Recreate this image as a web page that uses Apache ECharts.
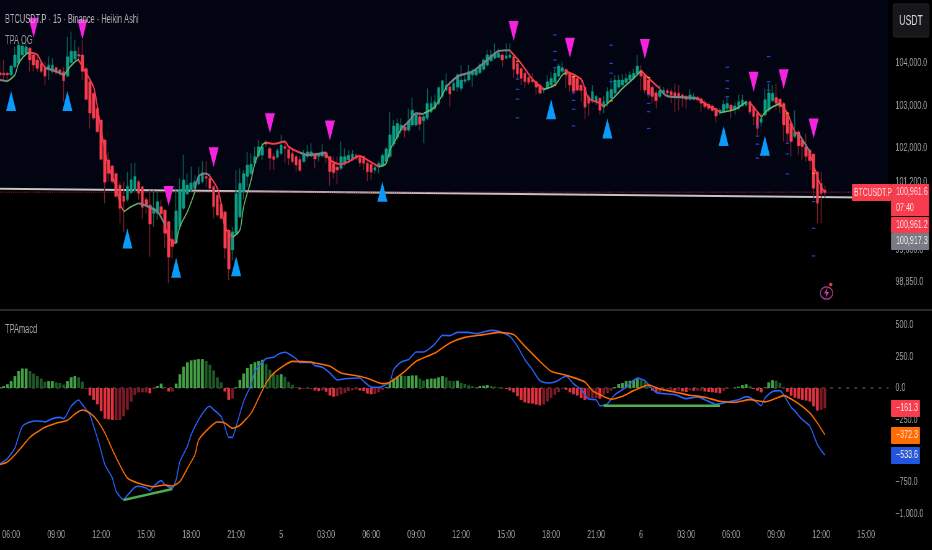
<!DOCTYPE html>
<html><head><meta charset="utf-8">
<style>html,body{margin:0;padding:0;background:#000;overflow:hidden}
#w{width:932px;height:550px;overflow:hidden;position:relative}
#c{height:550px;position:absolute;left:0;top:0;transform-origin:0 0}</style>
<script src="https://cdn.jsdelivr.net/npm/echarts@6/dist/echarts.min.js"></script>
</head><body><div id="w"><div id="c"></div></div>
<script>
const FONT = '"Liberation Sans",Arial,sans-serif';
const candleOpen = [
103770,103760,103760,103720,103910,103990,104190,104230,104350,104190,
104070,103990,103870,103840,103800,103890,103840,103800,103690,104010,
104090,104200,104190,103870,103560,103290,102930,102660,102190,101720,
101580,101400,101130,100870,100790,100950,101010,101210,101090,100790,
100660,100460,100460,100620,100540,100270,99850,99770,100150,100580,
100920,101000,101050,101150,101210,101330,101290,101090,100890,100680,
100500,100070,99600,99990,100380,100970,101330,101400,101640,101810,
101830,102130,101990,101800,101780,101870,102030,101970,101870,101800,
101730,101680,101800,101810,101870,101800,101810,101890,101800,101640,
101550,101520,101620,101720,101740,101830,101780,101800,101640,101620,
101480,101560,101600,101680,101800,102090,102250,102420,102500,102420,
102540,102540,102740,102640,102700,102850,102930,103050,103220,103360,
103440,103360,103430,103400,103570,103600,103720,103720,103770,103850,
103950,104050,104110,104130,104190,104110,104130,104150,103990,103870,
103760,103660,103600,103560,103480,103360,103400,103480,103540,103690,
103800,103850,103760,103690,103640,103480,103430,103210,103100,103090,
103170,102960,103050,103170,103290,103430,103480,103540,103600,103640,
103740,103820,103720,103600,103430,103300,103210,103290,103350,103330,
103300,103290,103250,103210,103140,103140,103190,103160,103070,103030,
102990,102930,102830,102850,102930,103010,102910,102930,102990,103010,
103090,102970,102830,102600,102780,102890,103110,103190,103150,103050,
102820,102580,102270,102380,102190,102030,101950,101860,101440,101170,101010];
const candleClose = [
103720,103720,103720,103930,104190,104420,104400,104380,104070,103950,
103870,103800,103690,103950,103950,103780,103740,103580,104150,104280,
104280,104160,103800,103140,102820,102700,102380,101730,101190,101400,
101210,100860,100580,100740,101100,101250,101330,100930,100600,100630,
100210,100580,100740,100450,99990,99430,99680,100520,101030,101250,
101130,101180,101210,101330,101420,101290,101050,100620,100420,100340,
99640,99150,100030,100930,101170,101400,101600,101620,101800,102030,
102030,102090,101760,101730,101940,102070,101990,101760,101680,101600,
101470,101860,101910,101910,101740,101870,101910,101770,101440,101420,
101480,101800,101800,101830,101860,101760,101650,101640,101440,101430,
101540,101640,101830,101980,102310,102520,102580,102540,102410,102640,
102890,102780,102560,102740,103050,103050,103090,103420,103580,103480,
103270,103520,103720,103600,103610,103800,103800,103840,103950,104070,
104190,104190,104230,104230,104070,104170,104190,103850,103740,103640,
103560,103540,103560,103430,103290,103400,103560,103640,103760,103930,
103890,103720,103480,103330,103360,103350,102960,103050,103330,103210,
102890,103090,103330,103380,103600,103600,103600,103640,103720,103760,
103930,103690,103360,103250,103210,103110,103350,103360,103290,103250,
103220,103210,103170,103140,103250,103210,103130,103050,102970,102930,
102880,102750,102890,103030,103050,102890,102990,103090,103130,103090,
102850,102740,102460,102700,103140,103300,103290,103050,102970,102540,
102340,102150,102380,102050,102030,101800,101700,101050,100700,100930,100950];
const candleLow = [
103600,103560,103600,103680,103870,103950,104150,104190,103800,103800,
103800,103760,103480,103600,103760,103720,103690,103090,103680,103990,
104070,104030,103600,103130,102460,102660,102380,101720,100700,101210,
101170,100820,100230,100030,100740,100930,100970,100780,100340,100460,
99440,100150,100310,100380,99640,98820,99400,99760,100070,100540,
100890,100970,101030,101130,101170,101090,101010,100340,100380,100340,
99400,98890,99360,99950,100340,100780,101090,101360,101560,101760,
101720,102030,101480,101480,101760,101840,101640,101600,101640,101440,
101440,101660,101760,101800,101520,101680,101800,101640,101110,101290,
101150,101480,101580,101640,101700,101720,101560,101480,101220,101250,
101400,101400,101560,101640,101760,102030,102190,102340,102240,102380,
102500,102500,102420,102110,102660,102820,102890,103010,103170,103330,
102960,103360,103330,103330,103520,103560,103440,103680,103740,103820,
103910,104030,104090,104110,103910,104090,104110,103640,103600,103480,
103400,103480,103520,103250,103250,103290,103360,103440,103510,103660,
103760,103400,103330,103250,103330,103090,102670,102750,103050,103010,
102780,102820,102970,103130,103210,103400,103440,103510,103560,103600,
103690,103360,103290,103170,103050,102930,103170,103250,103210,103050,
102850,102890,102970,102930,103110,103130,103090,102850,102930,102890,
102850,102600,102780,102820,102850,102700,102780,102890,102970,102970,
102780,102540,102310,102500,102740,102850,103070,102890,102820,102150,
102110,101800,102230,101840,101720,101680,101480,100780,100230,100230,100820];
const candleHigh = [
104030,104070,103800,103950,104380,104500,104460,104460,104380,104230,
104190,104030,104030,104150,104110,103910,103870,103910,104620,104740,
104540,104380,104540,103910,103600,103290,102970,102660,102190,101910,
101600,101400,101210,101210,101440,101640,101650,101250,101090,100850,
101010,101010,100970,100780,100540,100270,100070,101010,101290,101840,
101400,101560,101360,101560,101690,101680,101400,101130,100930,100700,
100500,100070,100150,101480,101520,101480,101910,101870,102030,102190,
102110,102190,102030,101870,101990,102310,102190,101990,101950,101840,
101800,101950,102070,102110,101870,101870,102090,101910,101800,101800,
101800,102150,101990,101950,101950,101870,101810,101800,101720,101640,
101600,101680,101870,102030,102840,102660,102700,102700,102520,102930,
103180,102820,102780,102780,103400,103210,103250,103430,103600,103760,
103480,103640,103760,103950,103760,103950,103870,103870,103990,104110,
104310,104310,104460,104340,104230,104460,104460,104190,104030,103890,
103800,103690,103760,103600,103520,103440,103720,103800,103870,103990,
104030,103870,103800,103720,103640,103600,103430,103250,103480,103250,
103170,103210,103430,103640,103720,103720,103740,103760,103800,103870,
104190,103950,103760,103640,103480,103360,103480,103440,103400,103400,
103520,103480,103290,103250,103380,103290,103220,103190,103130,103070,
103030,102930,102930,103130,103210,103040,103090,103250,103250,103130,
103090,102990,102850,102820,103400,103520,103480,103520,103170,103090,
102850,102600,102890,102420,102230,102340,101990,101870,101440,101440,101110];

const baseLine = [[0,101040],[237,100830]];
const lastPriceLine = [[0,100961.6],[237,100961.6]];

const ogGreen = [
[2,103570],[4,103720],[5,103990],[7,104210],[8,104240],[8,null],
[17,103690],[18,103835],[20,104030],[21,104090],[21,null],
[33,100500],[35,100620],[37,100700],[37,null],
[47,99760],[48,100150],[50,100500],[52,100970],[52,null],
[62,99900],[64,100070],[65,100620],[67,101250],[68,101640],[70,102070],[71,102130],[71,null],
[101,101560],[103,101640],[104,101950],[106,102270],[107,102460],[107,null],
[113,102815],[116,102970],[119,103430],[119,null],
[145,103380],[148,103480],[150,103720],[151,103770],[151,null],
[161,102970],[164,103210],[166,103400],[169,103640],[171,103820],[171,null],
[192,102830],[196,102910],[199,103090],[199,null],
[203,102720],[205,102910],[208,103050]];
const ogRed = [
[8,104240],[10,104190],[11,104030],[12,103890],[12,null],
[21,104070],[23,103760],[25,103430],[26,102970],[27,102420],[28,101950],[29,101560],[31,101090],[32,100700],[33,100520],[33,null],
[44,100150],[45,99910],[46,99800],[47,99760],[47,null],
[56,101330],[58,101050],[59,100700],[60,100150],[62,99900],[62,null],
[71,102130],[73,102100],[76,102150],[77,102030],[80,101890],[80,null],
[87,101890],[88,101720],[91,101620],[93,101680],[96,101810],[98,101720],[101,101560],[101,null],
[136,104290],[139,103990],[142,103620],[145,103380],[145,null],
[151,103800],[155,103620],[156,103400],[157,103170],[160,103050],[161,102970],[161,null],
[171,103820],[173,103640],[176,103400],[176,null],
[186,103170],[188,103050],[192,102850],[192,null],
[200,103070],[202,102850],[203,102740],[203,null],
[208,103040],[210,102820],[212,102380],[213,102340],[213,null],
[216,101860],[218,101330],[219,101090],[220,100950]];
const ogGray = [
[0,103600],[2,103570],[2,null],
[12,103890],[15,103800],[17,103720],[17,null],
[37,100700],[39,100640],[42,100500],[44,100190],[44,null],
[52,101000],[53,101330],[55,101400],[56,101340],[56,null],
[80,101890],[81,101860],[82,101835],[87,101890],[87,null],
[107,102460],[109,102620],[111,102815],[113,102800],[113,null],
[119,103440],[122,103680],[126,103800],[130,104070],[133,104280],[136,104300],[136,null],
[176,103380],[178,103220],[183,103190],[186,103170],[186,null],
[213,102340],[216,101910]];

const buySignals = [[3,103106],[18,103106],[34,99870],[47,99180],[63,99220],[102,100970],[147,102910],[162,102460],[193,102280],[204,102050]];
const sellSignals = [[9,104830],[22,104790],[45,100870],[57,101780],[72,102580],[88,102410],[137,104750],[152,104360],[172,104330],[201,103560],[209,103620],[217,102460]];
const blueDashes = [
[138,103620],[138,103380],[138,103150],[138,102710],
[148,104660],[148,104270],[148,104070],[148,103890],
[153,103300],[153,103120],[153,102910],[153,102520],
[163,104420],[163,103990],[163,103760],[163,103560],
[173,103255],[173,103050],[173,102855],[173,102460],
[194,103900],[194,103580],[194,103400],[194,103210],
[202,102500],[202,102280],[202,102090],[202,101760],
[205,104150],[205,103560],[205,103360],
[210,102110],[210,101860],[210,101390],
[217,100740],[217,100110],[217,99460]];
const orangeDashes = [[138,104040],[153,103680],[148,103480],[173,103660],[163,103110],[210,102820],[217,101400]];

const histValues = [
5,15,30,55,95,135,155,155,135,115,
95,75,50,55,55,45,40,28,55,85,
95,85,50,-5,-60,-95,-130,-185,-245,-250,
-255,-255,-255,-225,-175,-110,-55,-35,-35,-35,
-42,-10,15,35,8,-28,-28,35,110,170,
205,220,225,230,230,215,185,140,85,45,
-28,-95,-85,5,65,115,160,190,205,215,
225,190,145,115,105,110,90,50,25,5,
-10,-8,-3,-5,-20,-25,-20,-30,-60,-70,
-65,-52,-40,-25,-18,-13,-20,-25,-45,-50,
-48,-35,-15,8,40,75,90,100,95,95,
100,100,75,60,70,75,75,85,95,85,
58,55,58,40,32,22,14,8,16,18,
24,16,10,5,-2,-8,-20,-35,-65,-95,
-115,-122,-125,-132,-138,-132,-108,-80,-55,-32,
-8,-15,-35,-50,-60,-80,-95,-85,-80,-80,
-85,-55,-40,-22,8,32,40,55,58,65,
75,65,50,18,-22,-35,-32,-26,-22,-18,
-22,-22,-28,-32,-20,-22,-22,-22,-28,-32,
-35,-38,-42,-22,-8,-2,3,10,24,30,
14,-8,-22,-35,5,45,62,58,40,3,
-30,-62,-78,-85,-95,-100,-108,-146,-180,-175,-161.3];
const macdLine = [
[0,-605],[2,-563],[4,-478],[5,-385],[6,-305],[8,-271],[10,-263],[11,-265],[12,-271],[14,-244],[16,-234],[17,-244],
[19,-146],[21,-96],[22,-133],[24,-215],[25,-305],[26,-398],[27,-504],[28,-610],[30,-717],[31,-823],[33,-889],[34,-855],
[36,-791],[37,-783],[39,-796],[40,-817],[41,-783],[43,-738],[44,-770],[46,-796],[47,-730],[48,-587],[50,-464],[51,-372],
[53,-252],[55,-165],[56,-146],[57,-173],[59,-228],[60,-305],[61,-393],[62,-393],[63,-305],[65,-106],[67,27],[68,133],
[71,234],[73,244],[74,265],[76,284],[77,273],[79,234],[80,204],[83,204],[84,178],[86,165],[88,119],[90,64],[92,74],[96,80],
[97,53],[99,8],[101,5],[104,48],[105,146],[107,207],[109,226],[111,287],[113,287],[115,324],[116,350],[118,419],[120,417],
[122,443],[125,443],[127,433],[129,446],[131,459],[133,451],[136,411],[138,332],[140,226],[142,146],[144,58],[146,40],
[148,48],[151,93],[153,32],[155,-13],[157,-88],[159,-93],[160,-141],[162,-127],[164,-53],[167,5],[170,80],[172,58],[175,-35],
[180,-53],[183,-85],[186,-72],[188,-93],[191,-130],[194,-111],[197,-93],[199,-69],[201,-93],[203,-141],[204,-80],[206,-29],
[208,-21],[209,-53],[211,-154],[212,-183],[214,-252],[216,-305],[218,-451],[219,-496],[220,-533.6]];
const signalLine = [
[0,-610],[2,-589],[4,-533],[6,-464],[8,-393],[10,-350],[12,-313],[15,-281],[18,-257],[20,-207],[22,-175],[24,-199],[26,-260],
[28,-358],[30,-491],[32,-613],[34,-717],[37,-759],[41,-786],[44,-772],[46,-780],[48,-746],[50,-640],[52,-533],[53,-414],
[56,-313],[58,-271],[60,-279],[62,-321],[64,-297],[67,-199],[69,-80],[71,40],[73,117],[76,183],[78,212],[83,207],[84,199],
[88,173],[91,119],[96,93],[99,66],[102,35],[104,45],[108,133],[111,212],[116,279],[120,358],[124,403],[129,425],[133,443],
[137,425],[140,332],[144,212],[147,133],[151,101],[156,48],[158,-21],[160,-53],[163,-90],[166,-66],[169,-21],[173,24],[176,-8],
[180,-32],[184,-58],[188,-74],[192,-106],[196,-114],[200,-93],[204,-111],[207,-82],[209,-61],[212,-106],[216,-199],[218,-279],[220,-372.3]];
const divergenceA = [[33,-892],[46,-804]];
const divergenceB = [[161,-141],[192,-141]];
const zeroLine = [[0,0],[237,0]];

const priceTicks = [104000,103000,102000,101200,99600,98850];
const macdTicks = [500,250,0,-250,-750,-1000];
const timeTicks = {3:'06:00',15:'09:00',27:'12:00',39:'15:00',51:'18:00',63:'21:00',75:'5',87:'03:00',99:'06:00',111:'09:00',123:'12:00',135:'15:00',147:'18:00',159:'21:00',171:'6',183:'03:00',195:'06:00',207:'09:00',219:'12:00',231:'15:00'};
const categoryCount = 238;

// The reference is a horizontally squeezed screenshot: draw wide, then squeeze.
const S = 0.62;
const X = v => v / S;
const box = document.getElementById('c');
box.style.width = X(932) + 'px';
box.style.transform = 'scaleX(' + S + ')';

const categories = Array.from({length:categoryCount},(_,i)=>String(i));
const fmt = v => (v<0?'\u2212':'') + Math.abs(v).toLocaleString('en-US',{minimumFractionDigits:1,maximumFractionDigits:1});
const UP='#0a9c84', DN='#f73c4e', UPW='#0c6355', DNW='#7a1f2a';
const wickData = candleOpen.map((o,i)=>[o,candleClose[i],candleLow[i],candleHigh[i]]);
const bodyData = candleOpen.map((o,i)=>{const c=candleClose[i];return [o,c,Math.min(o,c),Math.max(o,c)];});
const histData = histValues.map((v,i)=>{
  const p = i? histValues[i-1]:0;
  const col = v>=0 ? (v>=p?'#43a047':'#1d5a26') : (v<p?'#e2313f':'#7a1a26');
  return {value:v,itemStyle:{color:col}};
});
const line=(name,data,color,width,extra)=>Object.assign({type:'line',name,data,showSymbol:false,symbol:'none',
  lineStyle:{color,width},animation:false,silent:true,connectNulls:false},extra||{});
const hideAxis={axisLine:{show:false},axisTick:{show:false},splitLine:{show:false}};
const tag=(x,y,w,h,fill,lines,color)=>[
  {type:'rect',z:50,shape:{x:X(x),y,width:X(w),height:h,r:1},style:{fill}},
  ...lines.map((t,k)=>({type:'text',z:51,x:X(x+5),y:y+8+k*16,style:{text:t,fill:color||'#ffdfe2',font:'11.5px '+FONT,textVerticalAlign:'middle'}}))
];
const chart=echarts.init(box,null,{renderer:'canvas'});
chart.setOption({
  animation:false,backgroundColor:'#000',
  grid:[{left:X(-2),top:0,width:X(892.5),height:309,outerBoundsMode:'none'},
        {left:X(-2),top:311,width:X(892.5),height:214,outerBoundsMode:'none'}],
  xAxis:[
    {type:'category',gridIndex:0,data:categories,boundaryGap:true,axisLine:{show:false},axisTick:{show:false},axisLabel:{show:false},splitLine:{show:false}},
    {type:'category',gridIndex:1,data:categories,boundaryGap:true,axisLine:{show:false},axisTick:{show:false},splitLine:{show:false},
     axisLabel:{interval:0,margin:4,color:'#a3a3a3',fontFamily:FONT,fontSize:11.5,hideOverlap:false,
       formatter:(v,i)=>timeTicks[i]||''}}
  ],
  yAxis:[
    {type:'value',gridIndex:0,position:'right',min:98212,max:105482,scale:true,...hideAxis,
     axisLabel:{customValues:priceTicks,margin:X(5),color:'#a3a3a3',fontFamily:FONT,fontSize:11.5,formatter:fmt}},
    {type:'value',gridIndex:1,position:'right',min:-1091,max:613,...hideAxis,
     axisLabel:{customValues:macdTicks,margin:X(5),color:'#a3a3a3',fontFamily:FONT,fontSize:11.5,formatter:fmt}}
  ],
  series:[
    line('base',baseLine,'#c4c4c4',2,{z:2,areaStyle:{color:'#020412',origin:'end',opacity:1}}),
    line('last',lastPriceLine,'#a52a36',1,{z:2,lineStyle:{color:'#a52a36',width:1,type:[1.5,1.5]}}),
    {type:'candlestick',name:'wick',data:wickData,barWidth:X(1),z:3,silent:true,
     itemStyle:{color:UPW,color0:DNW,borderColor:UPW,borderColor0:DNW,borderWidth:X(1)}},
    {type:'candlestick',name:'body',data:bodyData,barWidth:X(3.2),z:4,silent:true,
     itemStyle:{color:UP,color0:DN,borderColor:UP,borderColor0:DN,borderWidth:0}},
    line('ogGray',ogGray,'#7c7f88',2.2,{z:5,smooth:0.3}),
    line('ogRed',ogRed,'#f73c4e',2,{z:5,smooth:0.3}),
    line('ogGreen',ogGreen,'#66bb6a',1.6,{z:5,smooth:0.3}),
    {type:'scatter',name:'dash',data:blueDashes,symbol:'rect',symbolSize:[X(3.5),1.2],z:6,silent:true,itemStyle:{color:'#2a40d8',opacity:1}},
    {type:'scatter',name:'odash',data:orangeDashes,symbol:'rect',symbolSize:[X(3),1.2],z:6,silent:true,itemStyle:{color:'#ff9800',opacity:1}},
    {type:'scatter',name:'buy',data:buySignals,symbol:'triangle',symbolSize:[X(10),20],z:7,silent:true,itemStyle:{color:'#0a9bfa',opacity:1}},
    {type:'scatter',name:'sell',data:sellSignals,symbol:'triangle',symbolRotate:180,symbolSize:[X(10),20],z:7,silent:true,itemStyle:{color:'#f522e0',opacity:1}},
    line('zero',zeroLine,'#666',1,{xAxisIndex:1,yAxisIndex:1,z:1,lineStyle:{color:'#666',width:1,type:[5,8]}}),
    {type:'bar',name:'hist',xAxisIndex:1,yAxisIndex:1,data:histData,barWidth:X(2.8),z:2,silent:true},
    line('macd',macdLine,'#2962ff',1.6,{xAxisIndex:1,yAxisIndex:1,z:4,smooth:0.2}),
    line('signal',signalLine,'#ff6d00',1.6,{xAxisIndex:1,yAxisIndex:1,z:4,smooth:0.2}),
    line('divA',divergenceA,'#4caf50',2.4,{xAxisIndex:1,yAxisIndex:1,z:5}),
    line('divB',divergenceB,'#4caf50',2.4,{xAxisIndex:1,yAxisIndex:1,z:5})
  ],
  graphic:{elements:[
    {type:'rect',z:40,shape:{x:0,y:309,width:X(932),height:2},style:{fill:'#2a2a2e'}},
    {type:'text',z:41,x:X(5),y:20,style:{text:'BTCUSDT.P \u00b7 15 \u00b7 Binance \u00b7 Heikin Ashi',fill:'#b4b4b4',font:'12px '+FONT,textVerticalAlign:'middle'}},
    {type:'text',z:41,x:X(5),y:41,style:{text:'TPA OG',fill:'#9a9a9a',font:'12px '+FONT,textVerticalAlign:'middle'}},
    {type:'text',z:41,x:X(5),y:330,style:{text:'TPAmacd',fill:'#a8a8a8',font:'12px '+FONT,textVerticalAlign:'middle'}},
    {type:'rect',z:41,shape:{x:X(893),y:4,width:X(36),height:33,r:3},style:{fill:'#17171a',stroke:'#26262a',lineWidth:1}},
    {type:'text',z:42,x:X(911),y:21,style:{text:'USDT',fill:'#d8d8d8',font:'14px '+FONT,textAlign:'center',textVerticalAlign:'middle'}},
    {type:'rect',z:50,shape:{x:X(852),y:184,width:X(39),height:17,r:1},style:{fill:'#f73c4e'}},
    {type:'text',z:51,x:X(854),y:193,style:{text:'BTCUSDT.P',fill:'#ffdfe2',font:'11px '+FONT,textVerticalAlign:'middle'}},
    ...tag(891,184,38,32,'#f73c4e',['100,961.6','07:40']),
    ...tag(891,217,38,16,'#f73c4e',['100,961.2']),
    ...tag(891,233,38,17,'#787b86',['100,917.3'],'#f0f0f0'),
    ...tag(891,400,29,17,'#f73c4e',['\u2212161.3']),
    ...tag(891,427,29,17,'#ff6d00',['\u2212372.3']),
    ...tag(891,447,29,17,'#2356e0',['\u2212533.6'],'#fff3d0'),
    {type:'ellipse',z:41,shape:{cx:X(826.5),cy:293,rx:X(6.2),ry:6.2},style:{fill:'none',stroke:'#b0408f',lineWidth:1.3}},
    {type:'polygon',z:42,shape:{points:[[X(827.5),287.5],[X(824),293.5],[X(826.3),293.5],[X(825.5),298.5],[X(829),292],[X(826.8),292]]},style:{fill:'#d23cae'}},
    {type:'ellipse',z:42,shape:{cx:X(830.7),cy:284.5,rx:X(1.7),ry:1.7},style:{fill:'#f23645'}}
  ]}
});
</script></body></html>
